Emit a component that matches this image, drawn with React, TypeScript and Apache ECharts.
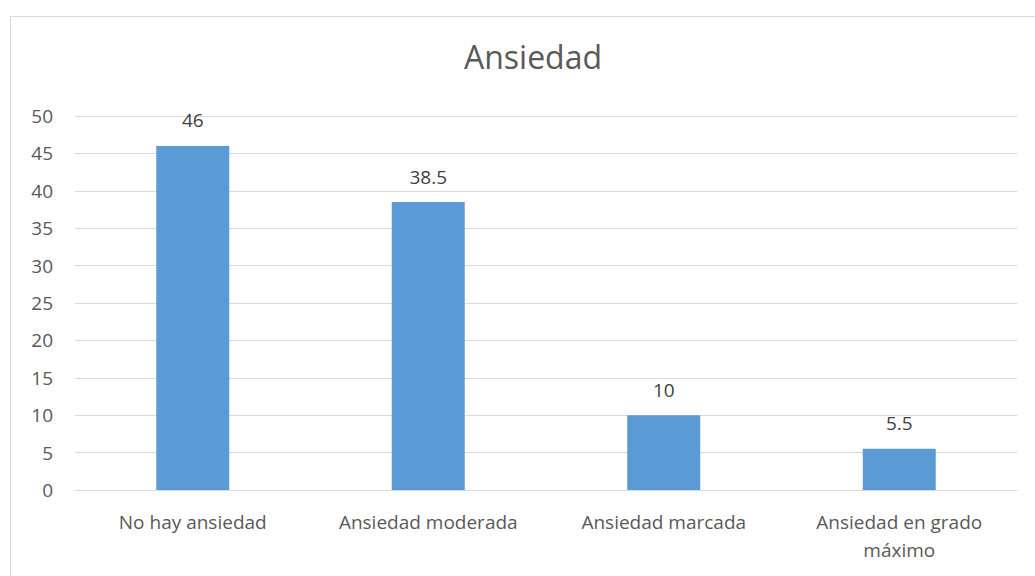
import React, { useEffect, useRef } from "react";
import * as echarts from "echarts";

const categories = ["No hay ansiedad", "Ansiedad moderada", "Ansiedad marcada", "Ansiedad en grado\nmáximo"];
const values = [46, 38.5, 10, 5.5];
const yMin = 0;
const yMax = 50;
const yInterval = 5;

export default function App() {
  const ref = useRef<HTMLDivElement>(null);
  useEffect(() => {
    document.body.style.margin = "0";
    const chart = echarts.init(ref.current!, null, { renderer: "svg" });
    const font = "'Open Sans', 'Liberation Sans', sans-serif";
    chart.setOption({
      animation: false,
      backgroundColor: "#ffffff",
      title: {
        text: "Ansiedad",
        left: 528,
        textAlign: "center",
        top: 35,
        textStyle: { fontFamily: font, fontSize: 32, fontWeight: "normal", color: "#595959" },
      },
      graphic: [
        {
          type: "rect",
          shape: { x: 10.5, y: 16.5, width: 1100, height: 700 },
          style: { fill: "none", stroke: "#d9d9d9", lineWidth: 1 },
          silent: true,
        },
      ],
      grid: { left: 75, right: 18, top: 116, bottom: 86, containLabel: false },
      xAxis: {
        type: "category",
        data: categories,
        axisLine: { show: true, lineStyle: { color: "#d9d9d9" } },
        axisTick: { show: false },
        axisLabel: {
          fontFamily: font,
          fontSize: 19,
          color: "#595959",
          margin: 18,
          lineHeight: 28,
          interval: 0,
        },
      },
      yAxis: {
        type: "value",
        min: yMin,
        max: yMax,
        interval: yInterval,
        axisLine: { show: false },
        axisTick: { show: false },
        splitLine: { lineStyle: { color: "#d9d9d9" } },
        axisLabel: { fontFamily: font, fontSize: 19, color: "#595959", margin: 22 },
      },
      series: [
        {
          type: "bar",
          data: values,
          barWidth: 73,
          itemStyle: { color: "#5b9bd5" },
          label: {
            show: true,
            position: "top",
            distance: 16,
            fontFamily: font,
            fontSize: 19,
            color: "#404040",
          },
        },
      ],
    });
    return () => chart.dispose();
  }, []);
  return <div ref={ref} style={{ width: 1035, height: 576 }} />;
}
